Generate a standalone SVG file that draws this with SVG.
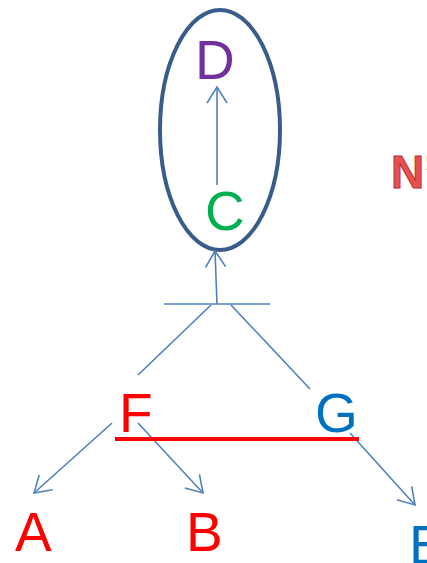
<svg xmlns="http://www.w3.org/2000/svg" width="427" height="563" viewBox="0 0 427 563">
<style>
.lbl{font-family:"Liberation Sans",Arial,sans-serif;font-size:55px}
.cn{fill:none;stroke:#4F81BD;stroke-width:1.6}
</style>
<defs>
<marker id="ah" markerUnits="userSpaceOnUse" markerWidth="22" markerHeight="26" viewBox="-19 -13 22 26" refX="0" refY="0" orient="auto">
<path d="M-16,-10 L0,0 L-16,10" fill="none" stroke="#4F81BD" stroke-width="1.6"/>
</marker>
</defs>
<rect width="427" height="563" fill="#FFFFFF"/>
<g id="group-CD">
<ellipse cx="220" cy="130" rx="60" ry="120" fill="none" stroke="#385D8A" stroke-width="4"/>
</g>
<g id="node-D"><text class="lbl" x="195" y="79" fill="#7030A0">D</text></g>
<g id="node-C"><text class="lbl" x="205" y="230" fill="#00B050">C</text></g>
<g id="node-F"><text class="lbl" x="119" y="432" fill="#FF0000">F</text></g>
<g id="node-G"><text class="lbl" x="315" y="432" fill="#0070C0">G</text></g>
<g id="node-A"><text class="lbl" x="15" y="551" fill="#FF0000">A</text></g>
<g id="node-B"><text class="lbl" x="186" y="551" fill="#FF0000">B</text></g>
<g id="node-E"><text class="lbl" x="409" y="564" fill="#0070C0">E</text></g>
<g id="label-N"><text x="391" y="188" font-family="Liberation Sans,Arial,sans-serif" font-size="46" font-weight="bold" fill="#E8504F" stroke="#B83232" stroke-width="1">N’</text></g>
<g id="connectors">
<line class="cn" x1="217" y1="185" x2="217" y2="87" marker-end="url(#ah)"/>
<line class="cn" x1="217" y1="304" x2="215" y2="251" marker-end="url(#ah)"/>
<line class="cn" x1="164" y1="304" x2="270" y2="304"/>
<line class="cn" x1="211" y1="305" x2="138" y2="375"/>
<line class="cn" x1="231" y1="305" x2="310" y2="389"/>
<line class="cn" x1="112" y1="423" x2="34" y2="493" marker-end="url(#ah)"/>
<line class="cn" x1="138" y1="423" x2="203" y2="493" marker-end="url(#ah)"/>
<line class="cn" x1="350" y1="433" x2="415" y2="505" marker-end="url(#ah)"/>
<line x1="115" y1="439" x2="359" y2="439" stroke="#FF0000" stroke-width="4"/>
</g>
</svg>
